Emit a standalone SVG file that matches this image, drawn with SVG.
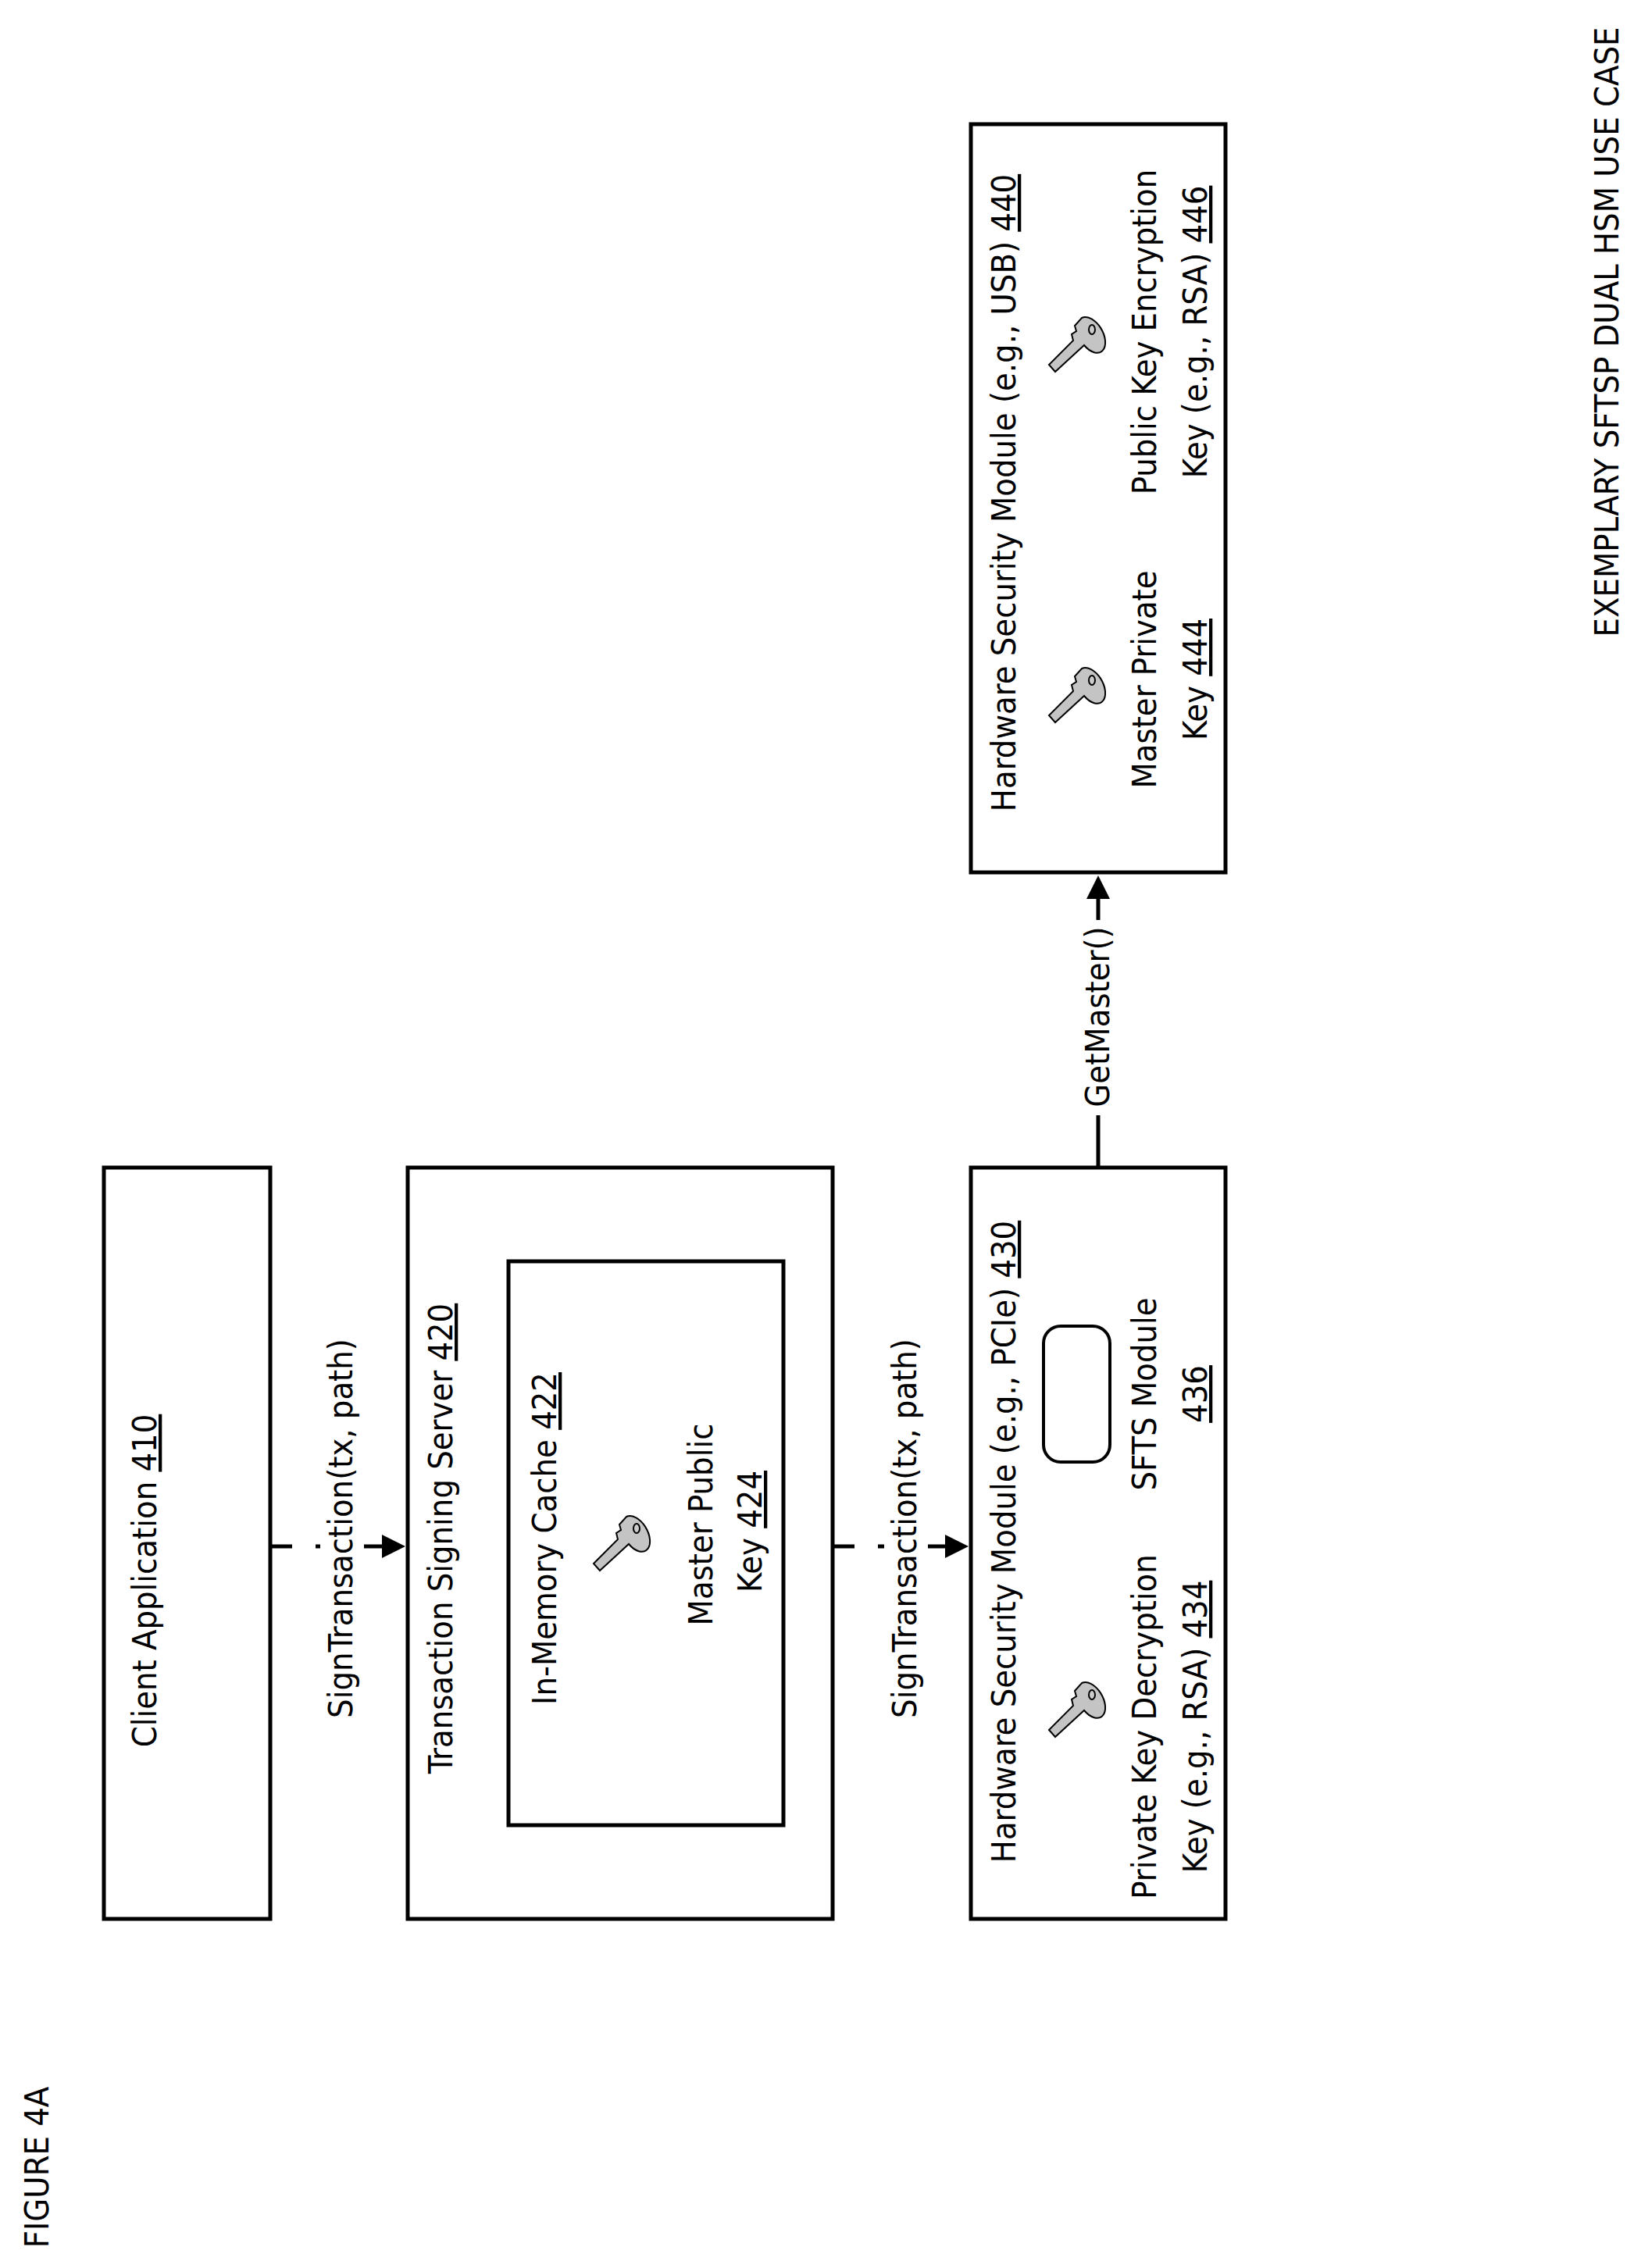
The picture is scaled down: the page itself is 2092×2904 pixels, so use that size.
<svg xmlns="http://www.w3.org/2000/svg" xmlns:xlink="http://www.w3.org/1999/xlink" width="2092" height="2904" viewBox="0 0 2092 2904">
<style>
text{font-family:"Liberation Sans Narrow","DejaVu Sans Condensed","Liberation Sans",sans-serif;font-size:43px;fill:#000;text-anchor:middle}
.box{fill:#fff;stroke:#000;stroke-width:5}
.u{text-decoration:underline}
.conn{stroke:#000;stroke-width:5;fill:none}
.dash{stroke-dasharray:28 30}
.bg{fill:#fff}
</style>
<defs>
<marker id="ah" markerWidth="6" markerHeight="6" refX="5" refY="3" orient="auto" markerUnits="strokeWidth"><path d="M0,0 L6,3 L0,6 z" fill="#000"/></marker>
<g id="key">
<path d="M-36,-32 L-27,-40 L4,-9 L12,-11 L16,-5 L23,-7 L33,2 A25,15 -30 1 1 -2,5 Z" fill="#c4c4c4" stroke="#000" stroke-width="2"/>
<ellipse cx="18" cy="15" rx="6" ry="4" fill="#ccc" stroke="#000" stroke-width="2"/>
</g>
</defs>
<rect width="2092" height="2904" fill="#fff"/>
<g id="connectors">
<line class="conn dash" x1="346" y1="1980" x2="514" y2="1980" marker-end="url(#ah)"/>
<line class="conn dash" x1="1066" y1="1980" x2="1235" y2="1980" marker-end="url(#ah)"/>
<line class="conn" x1="1406" y1="1495" x2="1406" y2="1126" marker-end="url(#ah)"/>
<rect class="bg" x="1383" y="1178" width="50" height="250"/>
<text transform="translate(1420,1302) rotate(-90)">GetMaster()</text>
<rect class="bg" x="410" y="1720" width="56" height="475"/>
<text transform="translate(451,1957) rotate(-90)">SignTransaction(tx, path)</text>
<rect class="bg" x="1132" y="1720" width="56" height="475"/>
<text transform="translate(1173,1957) rotate(-90)">SignTransaction(tx, path)</text>
</g>
<g id="client">
<rect class="box" x="133" y="1495" width="213" height="962"/>
<text transform="translate(200,2024) rotate(-90)">Client Application <tspan class="u">410</tspan></text>
</g>
<g id="tss">
<rect class="box" x="522" y="1495" width="544" height="962"/>
<text transform="translate(579,1970) rotate(-90)">Transaction Signing Server <tspan class="u">420</tspan></text>
</g>
<g id="cache">
<rect class="box" x="651" y="1615" width="352" height="722"/>
<text transform="translate(712,1970) rotate(-90)">In-Memory Cache <tspan class="u">422</tspan></text>
<use xlink:href="#key" href="#key" transform="translate(800,1975) rotate(-90)"/>
<text transform="translate(912,1952) rotate(-90)">Master Public</text>
<text transform="translate(975,1961) rotate(-90)">Key <tspan class="u">424</tspan></text>
</g>
<g id="hsm430">
<rect class="box" x="1243" y="1495" width="326" height="962"/>
<text transform="translate(1300,1974) rotate(-90)">Hardware Security Module (e.g., PCIe) <tspan class="u">430</tspan></text>
<use xlink:href="#key" href="#key" transform="translate(1383,2188) rotate(-90)"/>
<text transform="translate(1480,2211) rotate(-90)">Private Key Decryption</text>
<text transform="translate(1545,2211) rotate(-90)">Key (e.g., RSA) <tspan class="u">434</tspan></text>
<rect x="1336" y="1698" width="85" height="174" rx="22" fill="#fff" stroke="#000" stroke-width="4"/>
<text transform="translate(1480,1785) rotate(-90)">SFTS Module</text>
<text transform="translate(1545,1785) rotate(-90)" class="u">436</text>
</g>
<g id="hsm440">
<rect class="box" x="1243" y="159" width="326" height="958"/>
<text transform="translate(1300,631) rotate(-90)">Hardware Security Module (e.g., USB) <tspan class="u">440</tspan></text>
<use xlink:href="#key" href="#key" transform="translate(1383,889) rotate(-90)"/>
<use xlink:href="#key" href="#key" transform="translate(1383,440) rotate(-90)"/>
<text transform="translate(1480,870) rotate(-90)">Master Private</text>
<text transform="translate(1545,870) rotate(-90)">Key <tspan class="u">444</tspan></text>
<text transform="translate(1480,425) rotate(-90)">Public Key Encryption</text>
<text transform="translate(1545,425) rotate(-90)">Key (e.g., RSA) <tspan class="u">446</tspan></text>
</g>
<text transform="translate(2072,425) rotate(-90)">EXEMPLARY SFTSP DUAL HSM USE CASE</text>
<text transform="translate(62,2775) rotate(-90)">FIGURE 4A</text>
</svg>
